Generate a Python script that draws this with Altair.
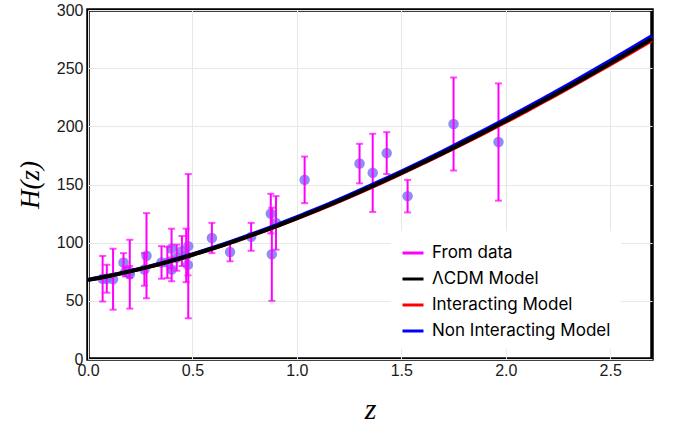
import altair as alt
import pandas as pd

# Observational H(z) data
z_obs = [0.07, 0.09, 0.12, 0.17, 0.179, 0.199, 0.2, 0.27, 0.28, 0.352, 0.38, 0.4, 0.4004,
         0.4247, 0.4497, 0.47, 0.4783, 0.48, 0.593, 0.68, 0.781, 0.875, 0.88, 0.9, 1.037,
         1.3, 1.363, 1.43, 1.53, 1.75, 1.965]
H_obs = [69, 69, 68.6, 83, 75, 75, 72.9, 77, 88.8, 83, 83, 95, 77, 87.1, 92.8, 89, 80.9,
         97, 104, 92, 105, 125, 90, 117, 154, 168, 160, 177, 140, 202, 186.5]
sig_obs = [19.6, 12, 26.2, 8, 4, 5, 29.6, 14, 36.6, 14, 13.5, 17, 10.2, 11.2, 12.9, 23, 9,
           62, 13, 8, 12, 17, 40, 23, 20, 17, 33.6, 18, 14, 40, 50.4]

# Model curves
z_mod = [0.0, 0.1, 0.2, 0.3, 0.4, 0.5, 0.6, 0.7, 0.8, 0.9, 1.0, 1.1, 1.2, 1.3, 1.4,
         1.5, 1.6, 1.7, 1.8, 1.9, 2.0, 2.1, 2.2, 2.3, 2.4, 2.5, 2.6, 2.7]
H_lcdm = [68, 71.4, 75.3, 79.6, 84.4, 89.6, 95.2, 101.2, 107.5, 114.1, 121.1, 128.3, 135.8,
          143.6, 151.7, 160.0, 168.5, 177.2, 186.2, 195.3, 204.7, 214.2, 224.0, 233.9,
          244.0, 254.3, 264.7, 275.3]
H_int = [68, 71.3, 75.2, 79.5, 84.2, 89.4, 94.9, 100.9, 107.1, 113.7, 120.6, 127.8, 135.2,
         143.0, 151.0, 159.3, 167.8, 176.4, 185.3, 194.4, 203.7, 213.1, 222.9, 232.7,
         242.8, 253.0, 263.3, 273.8]
H_nonint = [68, 71.5, 75.5, 79.8, 84.7, 90.0, 95.7, 101.8, 108.2, 114.9, 122.0, 129.2, 136.8,
            144.7, 152.9, 161.2, 169.8, 178.6, 187.7, 196.9, 206.3, 215.9, 225.8, 235.8,
            246.0, 256.4, 266.9, 277.6]

series_names = ["From data", "ΛCDM Model", "Interacting Model", "Non Interacting Model"]
series_colors = ["#ff00ff", "#000000", "#ff0000", "#0000ff"]

obs = pd.DataFrame({"z": z_obs, "H": H_obs, "s": sig_obs})
obs["lo"] = obs["H"] - obs["s"]
obs["hi"] = obs["H"] + obs["s"]

rows = []
for name, vals in [("Non Interacting Model", H_nonint), ("Interacting Model", H_int),
                   ("ΛCDM Model", H_lcdm)]:
    for zz, hh in zip(z_mod, vals):
        rows.append({"z": zz, "H": hh, "series": name})
mod = pd.DataFrame(rows)

xscale = alt.Scale(domain=[0, 2.7], nice=False, zero=False)
yscale = alt.Scale(domain=[0, 300], nice=False)

xax = alt.Axis(values=[0, 0.5, 1.0, 1.5, 2.0, 2.5], format=".1f", title="z", labelFlush=False,
               titleFont="Liberation Serif", titleFontStyle="italic", titleFontWeight="normal",
               titleFontSize=30, titlePadding=16, titleColor="black")
yax = alt.Axis(values=[0, 50, 100, 150, 200, 250, 300], title="H(z)", labelFlush=False,
               titleFont="Liberation Serif", titleFontStyle="italic", titleFontWeight="normal",
               titleFontSize=27, titlePadding=12, titleColor="black")

base_obs = alt.Chart(obs)

points = base_obs.mark_circle(size=110, color="#7070f5", opacity=0.8).encode(
    x=alt.X("z:Q", scale=xscale, axis=xax),
    y=alt.Y("H:Q", scale=yscale, axis=yax),
)
bars = base_obs.mark_rule(color="#ff00ff", strokeWidth=2).encode(
    x="z:Q", y="lo:Q", y2="hi:Q"
)
cap_lo = base_obs.mark_tick(color="#ff00ff", size=7, thickness=2, orient="horizontal").encode(
    x="z:Q", y="lo:Q"
)
cap_hi = base_obs.mark_tick(color="#ff00ff", size=7, thickness=2, orient="horizontal").encode(
    x="z:Q", y="hi:Q"
)

color_enc = alt.Color(
    "series:N",
    scale=alt.Scale(domain=series_names, range=series_colors),
    legend=alt.Legend(title=None, orient="none", legendX=303, legendY=221,
                      fillColor="white", padding=10, symbolType="stroke",
                      symbolStrokeWidth=3, symbolSize=441, labelFontSize=17,
                      labelFont="Inter", labelColor="black", rowPadding=6,
                      labelOffset=7, labelLimit=300),
)

def model_layer(name, width):
    return alt.Chart(mod).transform_filter(alt.datum.series == name).mark_line(
        strokeWidth=width, interpolate="monotone"
    ).encode(x="z:Q", y="H:Q", color=color_enc)

lines = [model_layer("Non Interacting Model", 4),
         model_layer("Interacting Model", 3.5),
         model_layer("ΛCDM Model", 4)]

chart = alt.layer(points, bars, cap_lo, cap_hi, *lines).properties(
    width=564, height=349,
    autosize=alt.AutoSizeParams(type="none"),
    padding={"left": 88, "top": 10, "right": 21, "bottom": 75},
).configure_view(
    stroke="black", strokeWidth=3.5
).configure_axis(
    grid=True, gridColor="#e8e8e8", gridWidth=1, domain=False, ticks=False,
    labelFont="Liberation Sans", labelFontSize=16, labelColor="#1a1a1a", labelPadding=5,
).configure_axisX(labelPadding=3)

chart.save("out.html", embed_options={"renderer": "svg", "actions": False})
